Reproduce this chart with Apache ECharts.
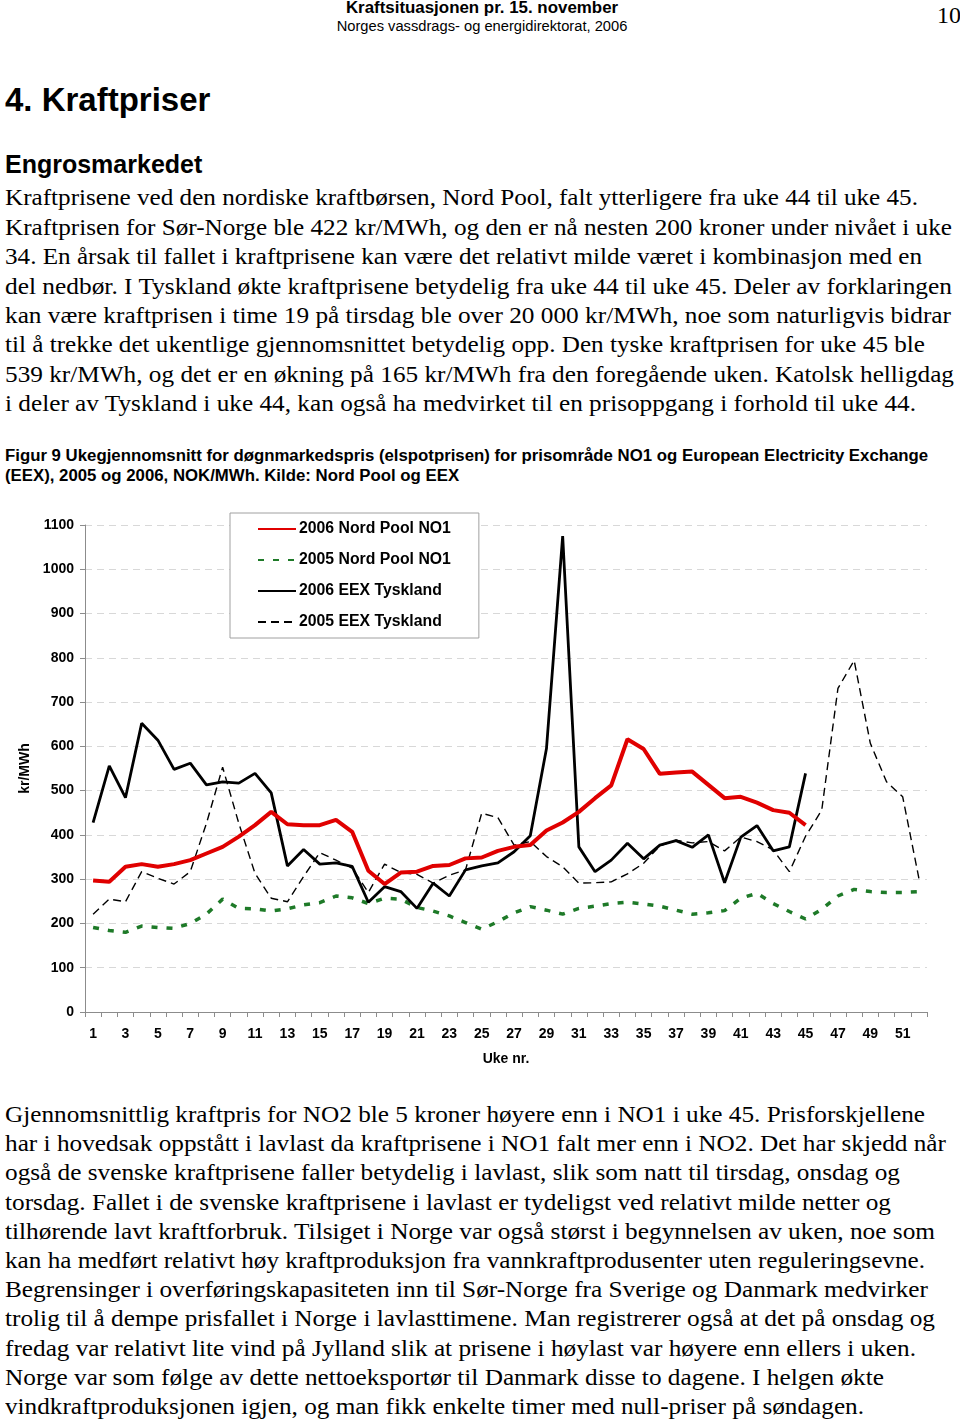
<!DOCTYPE html>
<html>
<head>
<meta charset="utf-8">
<script src="https://cdn.jsdelivr.net/npm/echarts@6/dist/echarts.min.js"></script>
<style>
  html, body { margin: 0; padding: 0; background: #fff; }
  body { width: 960px; height: 1422px; position: relative; overflow: hidden; color: #000; }
  .abs { position: absolute; white-space: nowrap; }
  .sans { font-family: "Liberation Sans", Arial, sans-serif; }
  .serif { font-family: "Liberation Serif", "Times New Roman", serif; }
  .body { font-size: 23px; left: 5px; }
  .body span { display: block; white-space: nowrap; }
  .body span i { font-style: normal; display: inline-block; transform-origin: 0 50%; }
  #chart { position: absolute; left: 0; top: 490px; width: 960px; height: 600px; }
</style>
</head>
<body>
<div class="abs sans" style="left:0;width:964px;top:-2px;text-align:center;font-weight:bold;font-size:16.9px;line-height:19px;">Kraftsituasjonen pr. 15. november</div>
<div class="abs sans" style="left:0;width:964px;top:17px;text-align:center;font-size:14.7px;line-height:19px;">Norges vassdrags- og energidirektorat, 2006</div>
<div class="abs serif" style="left:937px;top:1px;font-size:24px;line-height:28px;">10</div>

<div class="abs sans" style="left:5px;top:80px;font-weight:bold;font-size:33px;line-height:40px;">4. Kraftpriser</div>
<div class="abs sans" style="left:5px;top:148px;font-weight:bold;font-size:25px;line-height:32px;">Engrosmarkedet</div>

<div class="abs serif body" style="top:183.3px;line-height:29.4px;">
<span data-r="918"><i>Kraftprisene ved den nordiske kraftbørsen, Nord Pool, falt ytterligere fra uke 44 til uke 45.</i></span>
<span data-r="952"><i>Kraftprisen for Sør-Norge ble 422 kr/MWh, og den er nå nesten 200 kroner under nivået i uke</i></span>
<span data-r="922"><i>34. En årsak til fallet i kraftprisene kan være det relativt milde været i kombinasjon med en</i></span>
<span data-r="952"><i>del nedbør. I Tyskland økte kraftprisene betydelig fra uke 44 til uke 45. Deler av forklaringen</i></span>
<span data-r="951"><i>kan være kraftprisen i time 19 på tirsdag ble over 20 000 kr/MWh, noe som naturligvis bidrar</i></span>
<span data-r="925"><i>til å trekke det ukentlige gjennomsnittet betydelig opp. Den tyske kraftprisen for uke 45 ble</i></span>
<span data-r="954"><i>539 kr/MWh, og det er en økning på 165 kr/MWh fra den foregående uken. Katolsk helligdag</i></span>
<span data-r="916"><i>i deler av Tyskland i uke 44, kan også ha medvirket til en prisoppgang i forhold til uke 44.</i></span>
</div>

<div class="abs sans" style="left:5px;top:446px;font-weight:bold;font-size:16.8px;line-height:19.5px;">Figur 9 Ukegjennomsnitt for døgnmarkedspris (elspotprisen) for prisområde NO1 og European Electricity Exchange<br>(EEX), 2005 og 2006, NOK/MWh. Kilde: Nord Pool og EEX</div>

<div id="chart"></div>

<div class="abs serif body" style="top:1100px;line-height:29.2px;">
<span data-r="925"><i>Gjennomsnittlig kraftpris for NO2 ble 5 kroner høyere enn i NO1 i uke 45. Prisforskjellene</i></span>
<span data-r="946"><i>har i hovedsak oppstått i lavlast da kraftprisene i NO1 falt mer enn i NO2. Det har skjedd når</i></span>
<span data-r="900"><i>også de svenske kraftprisene faller betydelig i lavlast, slik som natt til tirsdag, onsdag og</i></span>
<span data-r="891"><i>torsdag. Fallet i de svenske kraftprisene i lavlast er tydeligst ved relativt milde netter og</i></span>
<span data-r="935"><i>tilhørende lavt kraftforbruk. Tilsiget i Norge var også størst i begynnelsen av uken, noe som</i></span>
<span data-r="925"><i>kan ha medført relativt høy kraftproduksjon fra vannkraftprodusenter uten reguleringsevne.</i></span>
<span data-r="928"><i>Begrensinger i overføringskapasiteten inn til Sør-Norge fra Sverige og Danmark medvirker</i></span>
<span data-r="935"><i>trolig til å dempe prisfallet i Norge i lavlasttimene. Man registrerer også at det på onsdag og</i></span>
<span data-r="916"><i>fredag var relativt lite vind på Jylland slik at prisene i høylast var høyere enn ellers i uken.</i></span>
<span data-r="884"><i>Norge var som følge av dette nettoeksportør til Danmark disse to dagene. I helgen økte</i></span>
<span data-r="864"><i>vindkraftproduksjonen igjen, og man fikk enkelte timer med null-priser på søndagen.</i></span>
</div>

<script>
// fit each text line to the reference line length
document.querySelectorAll('.body span').forEach(function (s) {
  var i = s.firstElementChild;
  var w = i.getBoundingClientRect().width;
  var target = parseFloat(s.getAttribute('data-r')) - 5;
  if (w > 0) i.style.transform = 'scaleX(' + (target / w) + ')';
});

// Week categories (x axis)
const weeks = ["1","2","3","4","5","6","7","8","9","10","11","12","13","14","15","16","17","18","19","20",
  "21","22","23","24","25","26","27","28","29","30","31","32","33","34","35","36","37","38","39","40",
  "41","42","43","44","45","46","47","48","49","50","51","52"];

// Series names
const seriesNames = ["2006 Nord Pool NO1", "2005 Nord Pool NO1", "2006 EEX Tyskland", "2005 EEX Tyskland"];

// 2006 Nord Pool NO1 (weeks 1-45), NOK/MWh
const nordPool2006 = [297,294,328,334,328,334,343,358,373,396,422,452,424,422,422,434,407,319,289,315,
  317,330,332,347,349,364,373,377,410,428,452,483,512,616,594,538,541,543,513,483,486,473,456,450,422];

// 2005 Nord Pool NO1 (weeks 1-52)
const nordPool2005 = [191,184,180,194,191,189,200,221,255,234,233,228,233,242,247,262,258,245,257,255,
  236,228,217,202,187,204,224,238,230,221,234,239,245,248,244,239,230,221,224,229,257,268,245,227,210,
  232,262,277,272,270,270,272];

// 2006 EEX Tyskland (weeks 1-45)
const eex2006 = [428,556,484,652,614,548,562,513,520,517,539,495,330,367,334,337,329,248,283,272,
  234,291,262,321,330,337,362,398,595,1075,373,317,343,381,346,377,387,372,400,292,395,421,364,373,539];

// 2005 EEX Tyskland (weeks 1-52)
const eex2005 = [221,255,249,317,302,289,317,426,553,426,313,257,249,306,360,343,325,270,334,315,
  311,291,309,321,449,439,377,385,351,328,291,292,294,312,336,375,388,382,385,364,395,385,366,317,397,
  456,731,794,607,520,486,302];

const font = '"Liberation Sans", Arial, sans-serif';
const chart = echarts.init(document.getElementById('chart'), null, { renderer: 'canvas' });

chart.setOption({
  animation: false,
  backgroundColor: '#fff',
  grid: { left: 85, right: 33, top: 35, bottom: 78, containLabel: false },
  legend: {
    orient: 'vertical',
    left: 230, top: 23,
    padding: [8, 28, 8, 27],
    itemGap: 15,
    itemWidth: 38, itemHeight: 14,
    backgroundColor: '#fff',
    borderColor: '#a0a0a0', borderWidth: 1,
    itemStyle: { opacity: 0 },
    textStyle: { fontFamily: font, fontWeight: 'bold', fontSize: 15.8, color: '#000', padding: [0, 0, 0, -2] },
    data: seriesNames
  },
  xAxis: {
    type: 'category',
    data: weeks,
    boundaryGap: true,
    name: 'Uke nr.',
    nameLocation: 'middle',
    nameGap: 40,
    nameTextStyle: { fontFamily: font, fontWeight: 'bold', fontSize: 14, color: '#000' },
    axisLine: { lineStyle: { color: '#8c8c8c', width: 1 } },
    axisTick: { show: true, interval: 0, length: 5, lineStyle: { color: '#8c8c8c' } },
    axisLabel: { interval: 1, margin: 15, fontFamily: font, fontWeight: 'bold', fontSize: 14, color: '#000' },
    splitLine: { show: false }
  },
  yAxis: {
    type: 'value',
    min: 0, max: 1100, interval: 100,
    name: 'kr/MWh',
    nameLocation: 'middle',
    nameGap: 43,
    nameRotate: 90,
    nameTextStyle: { fontFamily: font, fontWeight: 'bold', fontSize: 14, color: '#000' },
    axisLine: { show: true, lineStyle: { color: '#8c8c8c', width: 1 } },
    axisTick: { show: true, length: 5, lineStyle: { color: '#8c8c8c' } },
    axisLabel: { margin: 11, fontFamily: font, fontWeight: 'bold', fontSize: 14, color: '#000',
      formatter: function (v) { return String(v); } },
    splitLine: { show: true, lineStyle: { color: '#d8d8d8', type: [7, 5], width: 1 } }
  },
  series: [
    {
      name: seriesNames[0], type: 'line', data: nordPool2006, symbol: 'none', z: 5,
      lineStyle: { color: '#e00000', width: 4 }, itemStyle: { color: '#e00000' }
    },
    {
      name: seriesNames[1], type: 'line', data: nordPool2005, symbol: 'none', z: 3,
      lineStyle: { color: '#1e7a28', width: 3.5, type: [6, 9] }, itemStyle: { color: '#1e7a28' }
    },
    {
      name: seriesNames[2], type: 'line', data: eex2006, symbol: 'none', z: 4,
      lineStyle: { color: '#000', width: 2.8 }, itemStyle: { color: '#000' }
    },
    {
      name: seriesNames[3], type: 'line', data: eex2005, symbol: 'none', z: 2,
      lineStyle: { color: '#000', width: 1.4, type: [8, 5] }, itemStyle: { color: '#000' }
    }
  ]
});
</script>
</body>
</html>
